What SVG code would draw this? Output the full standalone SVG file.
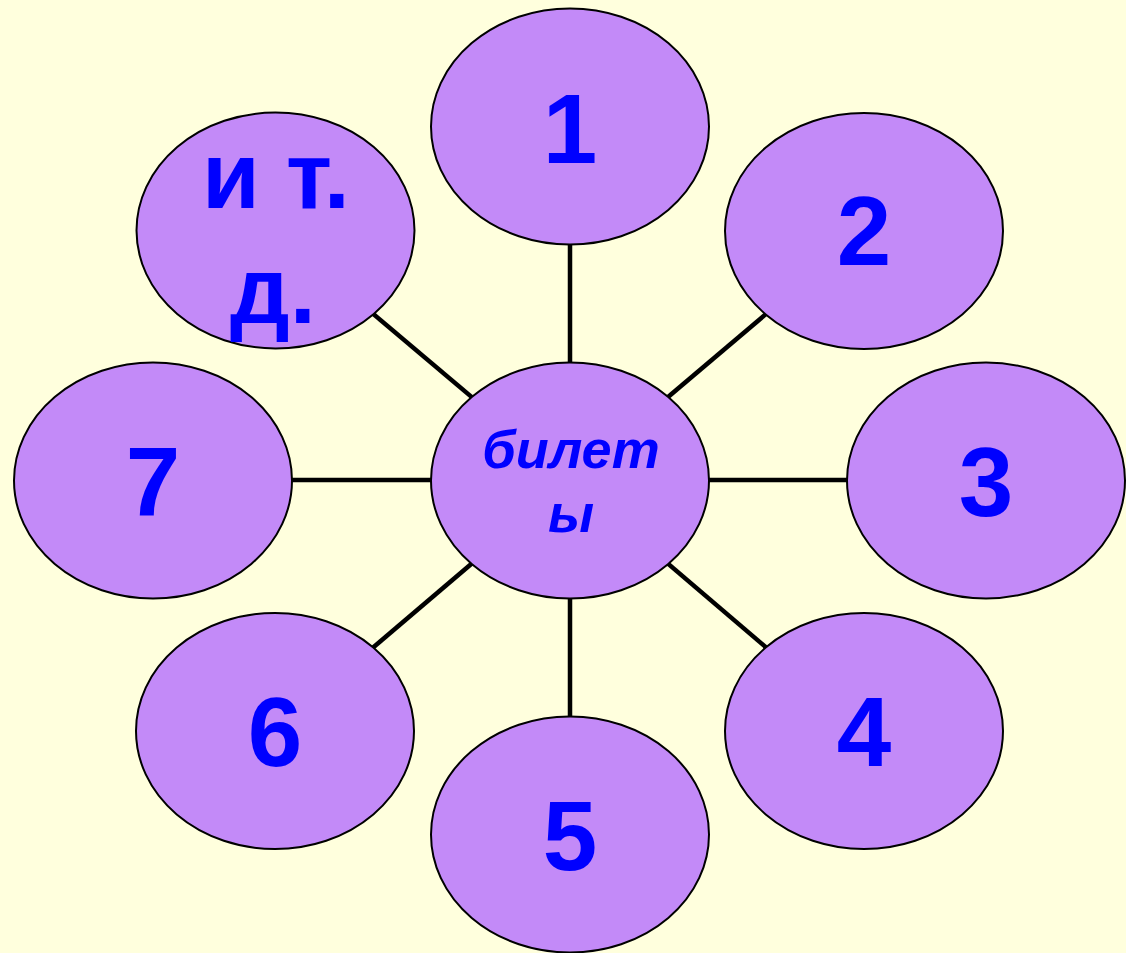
<svg xmlns="http://www.w3.org/2000/svg" width="1126" height="953" viewBox="0 0 1126 953">
<style>
.bg{fill:#FFFFDD}
.node{fill:#C38AF8;stroke:#000;stroke-width:2}
.edge{stroke:#000;stroke-width:4.5;fill:none}
.num{font-family:"Liberation Sans",Arial,sans-serif;font-weight:bold;font-size:98px;fill:#0000FF;text-anchor:middle}
.etc{font-family:"Liberation Sans",Arial,sans-serif;font-weight:bold;font-size:94px;fill:#0000FF;text-anchor:middle}
.ctr{font-family:"Liberation Sans",Arial,sans-serif;font-weight:bold;font-style:italic;font-size:54px;fill:#0000FF;text-anchor:middle}
</style>
<rect class="bg" x="0" y="0" width="1126" height="953"/>
<g id="connectors">
<line class="edge" x1="570" y1="480" x2="570" y2="127"/>
<line class="edge" x1="570" y1="480" x2="864" y2="231"/>
<line class="edge" x1="570" y1="480" x2="986" y2="480"/>
<line class="edge" x1="570" y1="480" x2="864" y2="731"/>
<line class="edge" x1="570" y1="480" x2="570" y2="834"/>
<line class="edge" x1="570" y1="480" x2="275" y2="731"/>
<line class="edge" x1="570" y1="480" x2="153" y2="480"/>
<line class="edge" x1="570" y1="480" x2="275" y2="231"/>
</g>
<g id="center">
<ellipse class="node" cx="570" cy="480.5" rx="139" ry="118"/>
<text class="ctr" x="571" y="468">билет</text>
<text class="ctr" x="571" y="532">ы</text>
</g>
<g id="n1">
<ellipse class="node" cx="570" cy="126.5" rx="139" ry="118"/>
<text class="num" x="570" y="163">1</text>
</g>
<g id="n2">
<ellipse class="node" cx="864" cy="231" rx="139" ry="118"/>
<text class="num" x="864" y="265">2</text>
</g>
<g id="n3">
<ellipse class="node" cx="986" cy="480.5" rx="139" ry="118"/>
<text class="num" x="986" y="516">3</text>
</g>
<g id="n4">
<ellipse class="node" cx="864" cy="731" rx="139" ry="118"/>
<text class="num" x="864" y="766">4</text>
</g>
<g id="n5">
<ellipse class="node" cx="570" cy="834.5" rx="139" ry="118"/>
<text class="num" x="570" y="870">5</text>
</g>
<g id="n6">
<ellipse class="node" cx="275" cy="731" rx="139" ry="118"/>
<text class="num" x="275" y="766">6</text>
</g>
<g id="n7">
<ellipse class="node" cx="153" cy="480.5" rx="139" ry="118"/>
<text class="num" x="153" y="516">7</text>
</g>
<g id="n8">
<ellipse class="node" cx="275.5" cy="230.5" rx="139" ry="118"/>
<text class="etc" x="276" y="208">и т.</text>
<text class="etc" x="273" y="323">д.</text>
</g>
</svg>
